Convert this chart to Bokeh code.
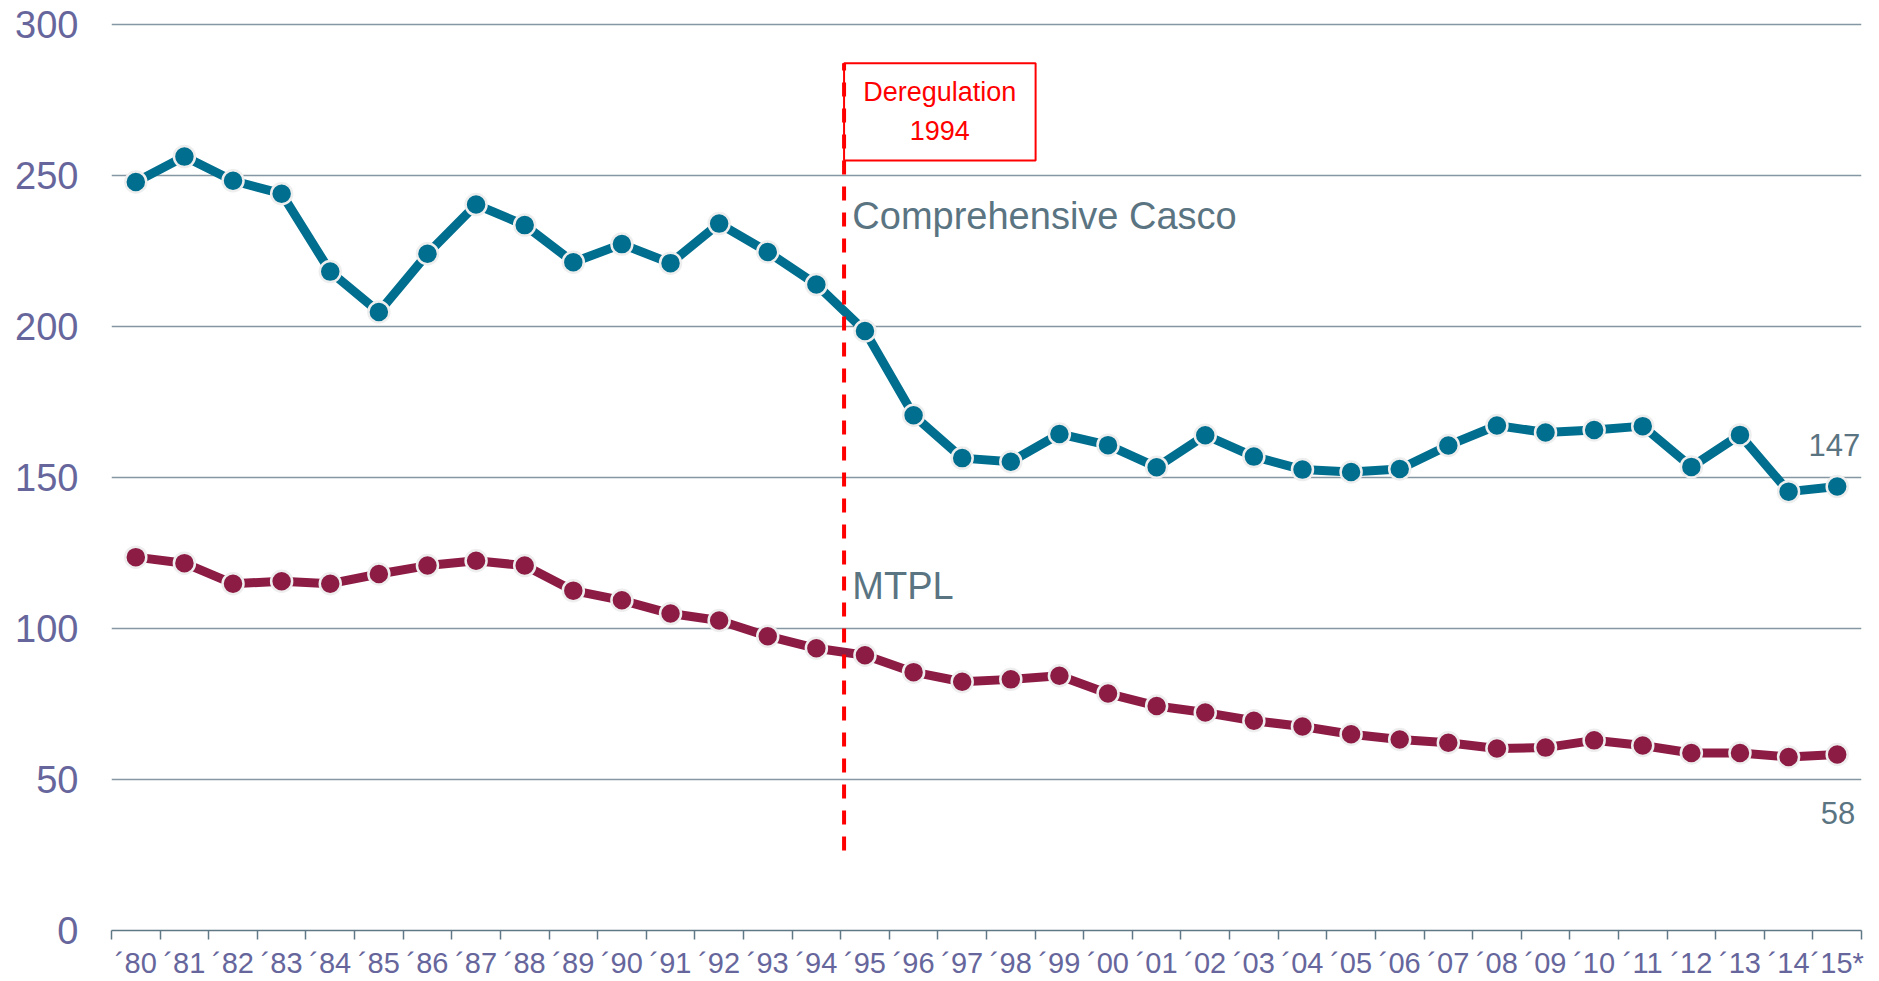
from bokeh.plotting import figure
from bokeh.models import Range1d, FixedTicker
from bokeh.core.properties import value
from bokeh.embed import file_html
from bokeh.resources import INLINE

# ---- data ----
categories = ["´80", "´81", "´82", "´83", "´84", "´85", "´86", "´87", "´88", "´89",
              "´90", "´91", "´92", "´93", "´94", "´95", "´96", "´97", "´98", "´99",
              "´00", "´01", "´02", "´03", "´04", "´05", "´06", "´07", "´08", "´09",
              "´10", "´11", "´12", "´13", "´14", "´15*"]
casco = [248, 256.4, 248.4, 244.1, 218.3, 204.9, 224.2, 240.5, 233.7, 221.4,
         227.4, 221.1, 234.2, 224.8, 214.0, 198.6, 170.7, 156.5, 155.3, 164.5,
         160.8, 153.5, 164.1, 157.0, 152.7, 151.9, 152.9, 160.7, 167.3, 165.0,
         165.8, 167.1, 153.6, 164.2, 145.4, 147.1]
mtpl = [123.7, 121.7, 114.9, 115.7, 114.9, 118.1, 120.9, 122.5, 120.9, 112.6,
        109.4, 105.0, 102.7, 97.5, 93.5, 91.2, 85.6, 82.4, 83.2, 84.4,
        78.5, 74.4, 72.2, 69.5, 67.6, 65.0, 63.3, 62.2, 60.3, 60.6,
        63.0, 61.3, 58.8, 58.8, 57.5, 58.3]
y_ticks = [0, 50, 100, 150, 200, 250, 300]
series_names = ["Comprehensive Casco", "MTPL"]
event_text = ["Deregulation", "1994"]

# ---- style ----
CASCO_COL = "#006E8E"
MTPL_COL = "#8D1C45"
AXIS_COL = "#5F7886"
GRID_COL = "#8597A3"
YLAB_COL = "#66669C"
NOTE_COL = "#5A7482"
RED = "#FF0000"
FONT = "Liberation Sans"

xs = list(range(len(categories)))

p = figure(width=1879, height=981, output_backend="svg", toolbar_location=None,
           x_range=Range1d(-0.5, len(categories) - 0.5), y_range=Range1d(0, 304.8),
           min_border_left=111, min_border_right=18, min_border_top=10,
           min_border_bottom=51)
p.outline_line_color = None
p.background_fill_color = "white"

# axes
xa = p.xaxis[0]
xa.ticker = FixedTicker(ticks=xs, minor_ticks=[i - 0.5 for i in range(len(categories) + 1)])
xa.major_label_overrides = {i: c for i, c in enumerate(categories)}
xa.major_tick_out = 0
xa.major_tick_in = 0
xa.minor_tick_out = 9
xa.minor_tick_in = 0
xa.minor_tick_line_color = AXIS_COL
xa.minor_tick_line_width = 1.5
xa.axis_line_color = AXIS_COL
xa.axis_line_width = 1.5
xa.major_label_text_font = FONT
xa.major_label_text_font_size = "29px"
xa.major_label_text_color = YLAB_COL
xa.major_label_standoff = 7

ya = p.yaxis[0]
ya.ticker = FixedTicker(ticks=y_ticks)
ya.major_tick_out = 0
ya.major_tick_in = 0
ya.minor_tick_out = 0
ya.minor_tick_in = 0
ya.axis_line_color = None
ya.major_label_text_font = FONT
ya.major_label_text_font_size = "38px"
ya.major_label_text_color = YLAB_COL
ya.major_label_standoff = 33

p.xgrid.visible = False
p.ygrid.ticker = FixedTicker(ticks=y_ticks[1:])
p.ygrid.grid_line_color = GRID_COL
p.ygrid.grid_line_width = 1.3

# deregulation marker (positions in axis units)
DX = 14.57
p.quad(left=[DX], right=[18.51], bottom=[255.1], top=[287.3],
       fill_color="white", line_color=RED, line_width=2)

# series
p.line(xs, casco, line_width=9, color=CASCO_COL, line_join="round")
p.scatter(xs, casco, size=21, fill_color=CASCO_COL, line_color="#EEEEEE", line_width=2.5)
p.line(xs, mtpl, line_width=9, color=MTPL_COL, line_join="round")
p.scatter(xs, mtpl, size=21, fill_color=MTPL_COL, line_color="#EEEEEE", line_width=2.5)

p.segment(x0=[DX], y0=[26.5], x1=[DX], y1=[287.3], line_color=RED,
          line_width=4, line_dash="14 12")

p.text(x=[16.54], y=[277.9], text=[event_text[0]], text_align="center",
       text_baseline="alphabetic", text_color=RED, text_font=value(FONT),
       text_font_size="27px")
p.text(x=[16.54], y=[265.0], text=[event_text[1]], text_align="center",
       text_baseline="alphabetic", text_color=RED, text_font=value(FONT),
       text_font_size="27px")

# series labels
p.text(x=[14.74], y=[236.7], text=[series_names[0]], text_align="left",
       text_baseline="alphabetic", text_color=NOTE_COL, text_font=value(FONT),
       text_font_size="38px")
p.text(x=[14.74], y=[114.1], text=[series_names[1]], text_align="left",
       text_baseline="alphabetic", text_color=NOTE_COL, text_font=value(FONT),
       text_font_size="38px")

# end-value labels
p.text(x=[xs[-1]], y=[casco[-1]], text=[str(round(casco[-1]))], text_align="right",
       text_baseline="alphabetic", x_offset=23, y_offset=-41, text_color=NOTE_COL,
       text_font=value(FONT), text_font_size="31px")
p.text(x=[xs[-1]], y=[mtpl[-1]], text=[str(round(mtpl[-1]))], text_align="right",
       text_baseline="alphabetic", x_offset=18, y_offset=58, text_color=NOTE_COL,
       text_font=value(FONT), text_font_size="31px")

open("out.html", "w").write(file_html(p, INLINE))
